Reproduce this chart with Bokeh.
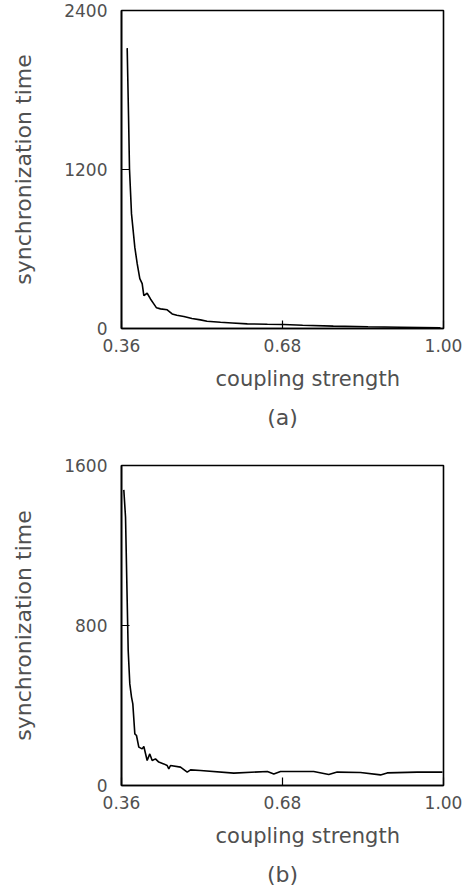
from bokeh.plotting import figure
from bokeh.layouts import column
from bokeh.models import Range1d, FixedTicker, Title
from bokeh.embed import file_html
from bokeh.resources import INLINE

# ---- data ----
x_ticks = [0.36, 0.68, 1.00]
x_tick_labels = ["0.36", "0.68", "1.00"]
ya_ticks = [0, 1200, 2400]
yb_ticks = [0, 800, 1600]
x_title = "coupling strength"
y_title = "synchronization time"
panel_tags = ["(a)", "(b)"]

xa = [0.3713, 0.3740, 0.3759, 0.3799, 0.3865, 0.3912, 0.3964, 0.4011, 0.4044,
      0.4110, 0.4176, 0.4242, 0.4296, 0.4375, 0.4508, 0.4607, 0.4700, 0.4839,
      0.5000, 0.5170, 0.5300, 0.5568, 0.5800, 0.6100, 0.6500, 0.6826, 0.7200,
      0.7810, 0.8500, 0.9146, 0.9940]
ya = [2116, 1600, 1204, 865, 612, 489, 376, 338, 248,
      266, 223, 186, 156, 148, 141, 110, 100, 90,
      75, 65, 55, 47, 42, 35, 32, 30, 25,
      18, 13, 10, 5]

xb = [0.3646, 0.3680, 0.3713, 0.3733, 0.3765, 0.3799, 0.3825, 0.3865, 0.3898,
      0.3944, 0.4011, 0.4044, 0.4110, 0.4162, 0.4210, 0.4275, 0.4341, 0.4440,
      0.4508, 0.4540, 0.4574, 0.4773, 0.4906, 0.4972, 0.5170, 0.5833, 0.6500,
      0.6627, 0.6760, 0.7420, 0.7720, 0.7887, 0.8350, 0.8748, 0.8880, 0.9480,
      0.9980]
yb = [1478, 1342, 925, 675, 508, 442, 408, 258, 250,
      192, 183, 195, 125, 158, 125, 133, 117, 108,
      100, 83, 100, 92, 67, 78, 75, 62, 70,
      58, 70, 70, 55, 67, 65, 53, 63, 67,
      67]

FONT = "DejaVu Sans"
TXT = "#505050"


def make_panel(xs, ys, yticks, tag, height, top, bottom, xlab_st, tag_st):
    p = figure(width=469, height=height, output_backend="svg", toolbar_location=None,
               x_range=Range1d(x_ticks[0], x_ticks[-1]),
               y_range=Range1d(yticks[0], yticks[-1]),
               min_border_left=121, min_border_right=26,
               min_border_top=top, min_border_bottom=bottom)
    p.line(xs, ys, line_color="black", line_width=1.6)
    p.grid.visible = False
    p.outline_line_color = "black"
    p.outline_line_width = 1.6
    p.outline_line_alpha = 1.0
    p.background_fill_color = "white"
    p.border_fill_color = "white"
    for ax in (p.xaxis[0], p.yaxis[0]):
        ax.major_tick_in = 8
        ax.major_tick_out = 0
        ax.minor_tick_line_color = None
        ax.axis_line_color = "black"
        ax.axis_line_width = 1.6
        ax.major_tick_line_color = "black"
        ax.major_tick_line_width = 1.2
        ax.major_label_text_font = FONT
        ax.major_label_text_font_size = "17px"
        ax.major_label_text_color = TXT
    p.xaxis.ticker = FixedTicker(ticks=x_ticks)
    p.xaxis.major_label_overrides = dict(zip(x_ticks, x_tick_labels))
    p.xaxis.major_label_standoff = 10
    p.yaxis.ticker = FixedTicker(ticks=yticks)
    p.yaxis.major_label_standoff = 14
    p.yaxis.axis_label = y_title
    p.yaxis.axis_label_text_font = FONT
    p.yaxis.axis_label_text_font_size = "22px"
    p.yaxis.axis_label_text_font_style = "normal"
    p.yaxis.axis_label_text_color = TXT
    p.yaxis.axis_label_standoff = 25

    p.add_layout(Title(text=x_title, align="left", offset=94, vertical_align="middle",
                       standoff=xlab_st, text_font=FONT, text_font_size="21px",
                       text_font_style="normal", text_color=TXT), "below")
    p.add_layout(Title(text=tag, align="center", vertical_align="middle",
                       standoff=tag_st, text_font=FONT, text_font_size="22px",
                       text_font_style="normal", text_color=TXT), "below")
    return p


pa = make_panel(xa, ya, ya_ticks, panel_tags[0], 440, 10, 112, 23, 0)
pb = make_panel(xb, yb, yb_ticks, panel_tags[1], 450, 25, 105, 23, 0)

layout = column(pa, pb, spacing=0)
open("out.html", "w").write(file_html(layout, INLINE))
